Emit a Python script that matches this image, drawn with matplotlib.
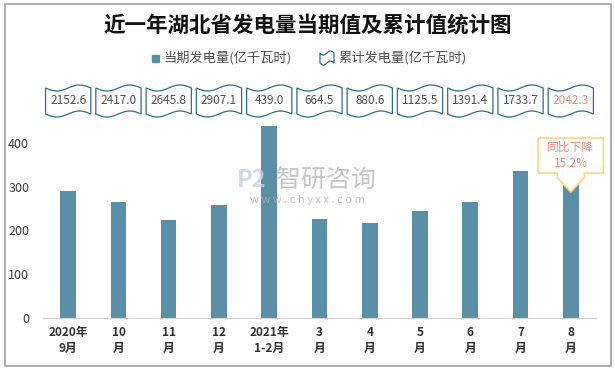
import numpy as np
import matplotlib
matplotlib.use("Agg")
import matplotlib.pyplot as plt
from matplotlib.patches import Rectangle, Polygon
from matplotlib.transforms import blended_transform_factory

plt.rcParams['font.family'] = ['Noto Sans CJK SC', 'DejaVu Sans']

# data
months = ["2020年\n9月", "10\n月", "11\n月", "12\n月", "2021年\n1-2月",
          "3\n月", "4\n月", "5\n月", "6\n月", "7\n月", "8\n月"]
current = [290.0, 264.4, 224.0, 258.0, 439.0, 225.5, 216.1, 244.9, 265.9, 335.0, 308.6]
cumulative = ["2152.6", "2417.0", "2645.8", "2907.1", "439.0", "664.5",
              "880.6", "1125.5", "1391.4", "1733.7", "2042.3"]
callout = "同比下降\n15.2%"

bar_color = "#5B8FA8"
box_edge = "#2E6F88"
salmon = "#F08C7A"

fig = plt.figure(figsize=(6.15, 3.71), dpi=100)
fig.patches.append(Rectangle((0.008, 0.013), 0.985, 0.975, transform=fig.transFigure,
                             fill=False, edgecolor="#A0A0A0", linewidth=1.2))

ax = fig.add_axes([0.070, 0.1437, 0.899, 0.530])
x = np.arange(len(months))
ax.bar(x, current, width=0.31, color=bar_color, zorder=2)
ax.set_xlim(-0.5, len(months) - 0.5)
ax.set_ylim(0, 450)
ax.set_yticks([0, 100, 200, 300, 400])
ax.tick_params(axis='y', length=0, pad=10, labelsize=9, labelcolor="#404040")
ax.tick_params(axis='x', length=0, pad=6)
ax.set_xticks(x)
ax.set_xticklabels(months, fontsize=8.5, fontweight='bold', color="#303030", linespacing=1.3)
for s in ["top", "right", "left"]:
    ax.spines[s].set_visible(False)
ax.spines["bottom"].set_color("#D0D0D0")

# title
fig.text(0.5, 0.933, "近一年湖北省发电量当期值及累计值统计图", ha='center', va='center',
         fontsize=15.5, fontweight='bold', color="#101010")

# legend
fig.patches.append(Rectangle((152 / 615, 1 - 62 / 371), 7 / 615, 7 / 371, transform=fig.transFigure,
                             color=bar_color))
fig.text(163 / 615, 1 - 58 / 371, "当期发电量(亿千瓦时)", ha='left', va='center',
         fontsize=9.5, color="#505050")
t = np.linspace(0, 1, 30)
lx = 320 + 14 * t
top = 1 - (53 + 2 * np.sin(2 * np.pi * t)) / 371
bot = 1 - (63 + 2 * np.sin(2 * np.pi * t)) / 371
verts = list(zip(lx / 615, top)) + list(zip(lx[::-1] / 615, bot[::-1]))
fig.patches.append(Polygon(verts, closed=True, transform=fig.transFigure, fill=False,
                           edgecolor=box_edge, linewidth=0.9))
fig.text(338 / 615, 1 - 58 / 371, "累计发电量(亿千瓦时)", ha='left', va='center',
         fontsize=9.5, color="#505050")

# cumulative wavy boxes above each bar
trans = blended_transform_factory(ax.transData, fig.transFigure)
half = 0.45
tt = np.linspace(0, 1, 40)
for i, val in enumerate(cumulative):
    xs = i - half + 2 * half * tt
    ytop = 1 - (88 + 3 * np.sin(2 * np.pi * tt)) / 371
    ybot = 1 - (114 + 3 * np.sin(2 * np.pi * tt)) / 371
    pts = list(zip(xs, ytop)) + list(zip(xs[::-1], ybot[::-1]))
    poly = Polygon(pts, closed=True, transform=trans, facecolor="white",
                   edgecolor=box_edge, linewidth=0.9, clip_on=False)
    ax.add_patch(poly)
    c = salmon if i == len(cumulative) - 1 else "#505050"
    ax.text(i, 1 - 101 / 371, val, transform=trans, ha='center', va='center',
            fontsize=8.5, color=c, clip_on=False)

# watermark
fig.text(0.53, 0.515, "智研咨询", ha='center', va='center', fontsize=18, color="#B8B8B8", alpha=0.8)
fig.text(0.50, 0.461, "w w w . c h y x x . c o m", ha='center', va='center', fontsize=8,
         color="#B0B0B0", alpha=0.8)
fig.text(0.41, 0.515, "P2", ha='center', va='center', fontsize=17, fontweight='bold',
         color="#C5D3E3", alpha=0.8)

# callout at the last bar
last = len(months) - 1
ctrans = blended_transform_factory(ax.transData, fig.transFigure)
bx0, bx1 = last - 0.65, last + 0.65
yt, yb = 1 - 138 / 371, 1 - 173 / 371
tip = 1 - 192 / 371
shape = [(bx0, yt), (bx1, yt), (bx1, yb), (last + 0.27, yb), (last + 0.27, yb - 0.012),
         (last, tip), (last - 0.27, yb - 0.012), (last - 0.27, yb), (bx0, yb)]
ax.add_patch(Polygon(shape, closed=True, transform=ctrans, facecolor="white",
                     edgecolor="#FFD580", linewidth=1.2, clip_on=False, zorder=5))
ax.text(last, (yt + yb) / 2, callout, transform=ctrans, ha='center', va='center',
        fontsize=8.5, color=salmon, linespacing=1.3, zorder=6, clip_on=False)

fig.savefig("out.png", dpi=100)
